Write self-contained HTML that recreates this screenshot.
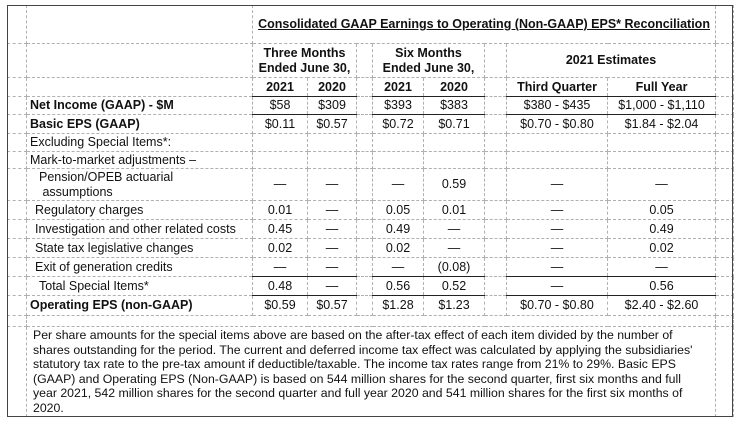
<!DOCTYPE html>
<html><head><meta charset="utf-8"><style>
html,body{margin:0;padding:0;background:#fff;}
body{width:740px;height:424px;position:relative;overflow:hidden;font-family:"Liberation Sans",Arial,sans-serif;color:#111;}
table{position:absolute;left:7px;top:5px;border-collapse:collapse;table-layout:fixed;width:726px;}
td{border:1px dashed #b0b0b0;padding:0;font-size:12.5px;line-height:13px;white-space:nowrap;overflow:hidden;}
.c{text-align:center;}
.b{font-weight:bold;}
.l{padding-left:3px;}
.i{padding-left:8px;}
.i2{padding-left:12px;}
.sb td.s{border-bottom:1px solid #222;}
.st td.s{border-top:1px solid #222;}
.outer{position:absolute;left:7px;top:5px;width:724px;height:410px;border:1.5px solid #444;pointer-events:none;}
.fn{vertical-align:top;}
.fn div{font-size:12.3px;line-height:14.6px;padding:1px 0 0 6px;height:88px;overflow:hidden;white-space:nowrap;}
</style></head><body>
<table>
<colgroup><col style="width:19px"><col style="width:226px"><col style="width:55px"><col style="width:49px"><col style="width:16px"><col style="width:51px"><col style="width:61px"><col style="width:22px"><col style="width:101px"><col style="width:108px"><col style="width:18px"></colgroup>
<tr style="height:38px"><td></td><td></td><td colspan="8" class="c b" style="border-left:none;border-right:none;"><span style="text-decoration:underline">Consolidated GAAP Earnings to Operating (Non-GAAP) EPS* Reconciliation</span></td><td></td></tr>
<tr style="height:34px"><td></td><td></td><td colspan="2" class="c b" style="line-height:15px">Three Months<br>Ended June 30,</td><td></td><td colspan="2" class="c b" style="line-height:15px">Six Months<br>Ended June 30,</td><td></td><td colspan="2" class="c b">2021 Estimates</td><td></td></tr>
<tr style="height:19px" class="sb"><td></td><td></td><td class="c b s">2021</td><td class="c b s">2020</td><td></td><td class="c b s">2021</td><td class="c b s">2020</td><td></td><td class="c b s">Third Quarter</td><td class="c b s">Full Year</td><td></td></tr>
<tr style="height:18px" class="sb"><td></td><td class="b l">Net Income (GAAP) - $M</td><td class="c s">$58</td><td class="c s">$309</td><td></td><td class="c s">$393</td><td class="c s">$383</td><td></td><td class="c s">$380 - $435</td><td class="c s">$1,000 - $1,110</td><td></td></tr>
<tr style="height:19px"><td></td><td class="b l">Basic EPS (GAAP)</td><td class="c">$0.11</td><td class="c">$0.57</td><td></td><td class="c">$0.72</td><td class="c">$0.71</td><td></td><td class="c">$0.70 - $0.80</td><td class="c">$1.84 - $2.04</td><td></td></tr>
<tr style="height:18px"><td></td><td class="l">Excluding Special Items*:</td><td></td><td></td><td></td><td></td><td></td><td></td><td></td><td></td><td></td></tr>
<tr style="height:17px"><td></td><td class="l">Mark-to-market adjustments –</td><td></td><td></td><td></td><td></td><td></td><td></td><td></td><td></td><td></td></tr>
<tr style="height:32px"><td></td><td class="i2" style="line-height:15px">Pension/OPEB actuarial<br>&nbsp;assumptions</td><td class="c">—</td><td class="c">—</td><td></td><td class="c">—</td><td class="c">0.59</td><td></td><td class="c">—</td><td class="c">—</td><td></td></tr>
<tr style="height:19px"><td></td><td class="i">Regulatory charges</td><td class="c">0.01</td><td class="c">—</td><td></td><td class="c">0.05</td><td class="c">0.01</td><td></td><td class="c">—</td><td class="c">0.05</td><td></td></tr>
<tr style="height:19px"><td></td><td class="i">Investigation and other related costs</td><td class="c">0.45</td><td class="c">—</td><td></td><td class="c">0.49</td><td class="c">—</td><td></td><td class="c">—</td><td class="c">0.49</td><td></td></tr>
<tr style="height:19px"><td></td><td class="i">State tax legislative changes</td><td class="c">0.02</td><td class="c">—</td><td></td><td class="c">0.02</td><td class="c">—</td><td></td><td class="c">—</td><td class="c">0.02</td><td></td></tr>
<tr style="height:19px"><td></td><td class="i">Exit of generation credits</td><td class="c">—</td><td class="c">—</td><td></td><td class="c">—</td><td class="c">(0.08)</td><td></td><td class="c">—</td><td class="c">—</td><td></td></tr>
<tr style="height:19px" class="st"><td></td><td class="i2">Total Special Items*</td><td class="c s">0.48</td><td class="c s">—</td><td></td><td class="c s">0.56</td><td class="c s">0.52</td><td></td><td class="c s">—</td><td class="c s">0.56</td><td></td></tr>
<tr style="height:20px" class="st"><td></td><td class="b l">Operating EPS (non-GAAP)</td><td class="c s">$0.59</td><td class="c s">$0.57</td><td></td><td class="c s">$1.28</td><td class="c s">$1.23</td><td></td><td class="c s">$0.70 - $0.80</td><td class="c s">$2.40 - $2.60</td><td></td></tr>
<tr style="height:11px"><td></td><td colspan="9"></td><td></td></tr>
<tr style="height:89px"><td></td><td colspan="9" class="fn"><div>Per share amounts for the special items above are based on the after-tax effect of each item divided by the number of<br>shares outstanding for the period. The current and deferred income tax effect was calculated by applying the subsidiaries'<br>statutory tax rate to the pre-tax amount if deductible/taxable. The income tax rates range from 21% to 29%. Basic EPS<br>(GAAP) and Operating EPS (Non-GAAP) is based on 544 million shares for the second quarter, first six months and full<br>year 2021, 542 million shares for the second quarter and full year 2020 and 541 million shares for the first six months of<br>2020.</div></td><td></td></tr>
</table>
<div class="outer"></div>
</body></html>
